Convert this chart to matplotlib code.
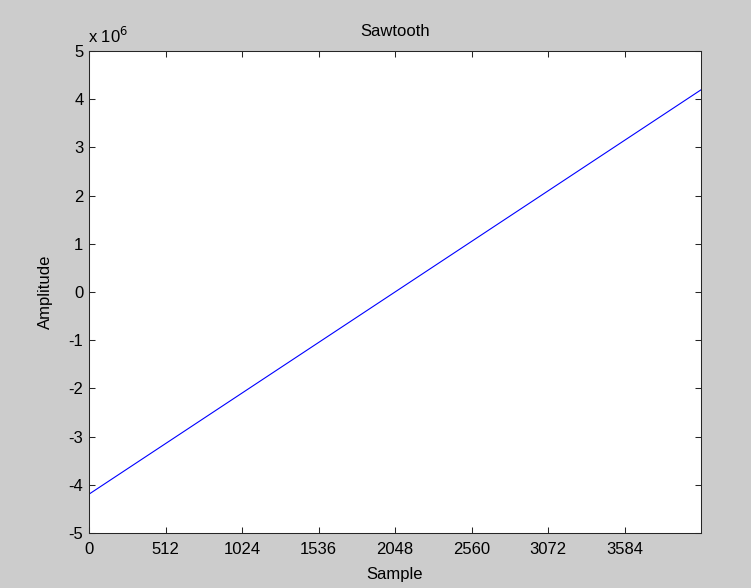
import matplotlib.pyplot as plt
from matplotlib.ticker import FuncFormatter

# 4096-sample ramp, full scale +/- 2^22
sample = [0, 4095]
amplitude = [-4194304, 4194303]
x_ticks = [0, 512, 1024, 1536, 2048, 2560, 3072, 3584]
y_ticks = [-5e6, -4e6, -3e6, -2e6, -1e6, 0, 1e6, 2e6, 3e6, 4e6, 5e6]

FS = 12

plt.rcParams["font.family"] = ["Liberation Sans", "DejaVu Sans"]
plt.rcParams["font.size"] = FS

fig = plt.figure(figsize=(7.51, 5.88), dpi=100, facecolor="#cccccc")
ax = fig.add_axes([89 / 751, 1 - 533 / 588, 612 / 751, 482 / 588])
ax.set_facecolor("white")

ax.plot(sample, amplitude, color="#0000ff", linewidth=0.8)

ax.set_xlim(0, 4095)
ax.set_ylim(-5e6, 5e6)
ax.set_xticks(x_ticks)
ax.set_yticks(y_ticks)
ax.yaxis.set_major_formatter(FuncFormatter(lambda v, pos: f"{v / 1e6:g}"))

ax.tick_params(direction="in", length=4.5, width=0.75, color="#262626",
               top=True, right=True, labelsize=FS)
ax.tick_params(axis="x", pad=6.5)
ax.tick_params(axis="y", pad=4)
for s in ax.spines.values():
    s.set_color("#262626")
    s.set_linewidth(0.75)

ax.set_title("Sawtooth", fontsize=FS, pad=10.5)
ax.set_xlabel("Sample", fontsize=FS, va="center")
ax.xaxis.set_label_coords(0.5, -41 / 482)
ax.set_ylabel("Amplitude", fontsize=FS, va="center")
ax.yaxis.set_label_coords(-44 / 612, 0.5)

# exponent label above the y axis
fig.text(88 / 751, 1 - 36 / 588, r"x 10$^{6}$", fontsize=FS, va="center", ha="left")

fig.savefig("out.png", dpi=100, facecolor=fig.get_facecolor())
